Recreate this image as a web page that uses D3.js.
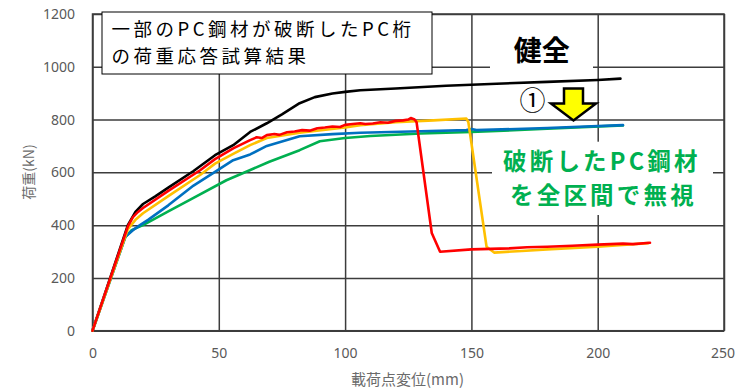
<!DOCTYPE html>
<html><head><meta charset="utf-8">
<script src="https://cdn.jsdelivr.net/npm/d3@7"></script>
<style>body{margin:0;background:#fff}svg{display:block}</style>
</head><body>
<svg id="c" width="735" height="388"></svg>
<script>
// ---- data (displacement mm, load kN) ----
const xTicks = [0, 50, 100, 150, 200, 250];
const yTicks = [0, 200, 400, 600, 800, 1000, 1200];
const xTitle = "載荷点変位(mm)";
const yTitle = "荷重(kN)";
const noteLines = ["一部のPC鋼材が破断したPC桁", "の荷重応答試算結果"];
const soundLabel = "健全";
const caseLabel = "①";
const greenLines = ["破断したPC鋼材", "を全区間で無視"];

const blackX = [0,14,17,20,25,30,40,48.5,55.7,62.4,69,75,82,88,95,100,106,120,140,160,180,200,209];
const blackY = [0,400,450,480,510,542,605,665,703,753,786,820,862,885,899,905,911,918,928,936,943,950,955];

const greenX = [0,13,15.5,20,30,40,53,62,70,82,90,100,110,130,150,180,210];
const greenY = [0,355,381,400,452,503,570,607,640,684,718,730,738,747,753,765,778];

const blueX = [0,13,16,18.8,22,30,40,48.5,55.7,62.4,69,82,95,106,130,148,150,152,180,210];
const blueY = [0,356,381,400,420,475,550,602,646,668,700,737,745,750,756,760,764,760,768,779];

const orangeX = [0,14,17,20,30,42.6,48.5,55.7,62.4,69,82,100,106,120,135,148,148.8,156,159,170,180,200,220];
const orangeY = [0,385,420,445,510,590,633,670,703,730,750,770,779,790,797,804,790,318,296,302,308,318,332];

const redX = [0,14,16,18,20,30,42.6,48.5,55.7,62.4,65,67,69,72,74,77,80,83,86,89,92,95,98,100,103,106,108,111,114,117,120,123,125,126,127.5,128.3,134.3,137.6,150,165,172,180,190,200,210,214,220.7];
const redY = [0,395,430,450,465,530,608,650,691,722,733,730,741,745,742,752,755,760,758,767,770,774,772,780,783,786,783,785,790,788,795,797,800,806,800,790,370,299,308,312,316,318,322,326,330,328,333];

// ---- layout ----
const svg = d3.select("#c");
const x = d3.scaleLinear().domain([0, 250]).range([92.5, 724]);
const y = d3.scaleLinear().domain([0, 1200]).range([330.7, 14]);
const W = x.range()[1] - x.range()[0];
const H = y.range()[0] - y.range()[1];
const gridColor = "#3c3c3c";
const tickFont = "'Noto Sans', 'DejaVu Sans', sans-serif";
const jp = "'Noto Sans CJK JP', sans-serif";

// y grid + labels
const gy = svg.append("g").attr("transform", `translate(${x(0)},0)`)
  .call(d3.axisLeft(y).tickValues(yTicks).tickFormat(d3.format("d"))
    .tickSizeInner(-W).tickSizeOuter(0).tickPadding(17.5));
// x grid + labels
const gx = svg.append("g").attr("transform", `translate(0,${y(0)})`)
  .call(d3.axisBottom(x).tickValues(xTicks).tickFormat(d3.format("d"))
    .tickSizeInner(-H).tickSizeOuter(0).tickPadding(17));
[gx, gy].forEach(g => {
  g.select(".domain").remove();
  g.selectAll(".tick line").attr("stroke", gridColor).attr("stroke-width", 1.5);
  g.selectAll(".tick text").attr("fill", "#595959").style("font-family", tickFont).style("font-size", "14px");
});
// last x label kept inside the picture
gx.selectAll(".tick text").filter(d => d === 250).attr("text-anchor", "end").attr("x", 10.5);

// frame
svg.append("rect").attr("x", x(0)).attr("y", y(1200)).attr("width", W).attr("height", H)
  .attr("fill", "none").attr("stroke", gridColor).attr("stroke-width", 1.5);

// axis titles
svg.append("text").attr("x", 407.5).attr("y", 378).attr("text-anchor", "middle")
  .attr("dominant-baseline", "central").attr("fill", "#6b6b6b")
  .style("font-family", jp).style("font-size", "15px").text(xTitle);
svg.append("text").attr("transform", "translate(28,172) rotate(-90)").attr("text-anchor", "middle")
  .attr("dominant-baseline", "central").attr("fill", "#6b6b6b")
  .style("font-family", jp).style("font-size", "14px").text(yTitle);

// series
const series = [
  {xs: blackX, ys: blackY, color: "#000000"},
  {xs: greenX, ys: greenY, color: "#00B050"},
  {xs: blueX, ys: blueY, color: "#0070C0"},
  {xs: orangeX, ys: orangeY, color: "#FFC000"},
  {xs: redX, ys: redY, color: "#FF0000"}
];
const line = d3.line().x(d => x(d[0])).y(d => y(d[1]));
series.forEach(s => {
  svg.append("path").datum(s.xs.map((v, i) => [v, s.ys[i]]))
    .attr("d", line).attr("fill", "none").attr("stroke", s.color)
    .attr("stroke-width", 2.6).attr("stroke-linejoin", "round").attr("stroke-linecap", "round");
});

// annotation box
svg.append("rect").attr("x", 102).attr("y", 12).attr("width", 330).attr("height", 62)
  .attr("fill", "#fff").attr("stroke", "#000").attr("stroke-width", 1);
const note = svg.append("text").style("font-family", jp).style("font-size", "18.5px")
  .style("letter-spacing", "3.5px").attr("fill", "#000");
note.append("tspan").attr("x", 111.5).attr("y", 36).text(noteLines[0]);
note.append("tspan").attr("x", 111.5).attr("y", 62.8).text(noteLines[1]);

// 健全 label
svg.append("rect").attr("x", 490).attr("y", 27).attr("width", 103).attr("height", 44).attr("fill", "#fff");
svg.append("text").attr("x", 541.7).attr("y", 61).attr("text-anchor", "middle")
  .style("font-family", jp).style("font-size", "28px").style("font-weight", "bold").attr("fill", "#000").text(soundLabel);

// ① and arrow
svg.append("text").attr("x", 532.5).attr("y", 110).attr("text-anchor", "middle")
  .style("font-family", jp).style("font-size", "26px").attr("fill", "#000").text(caseLabel);
svg.append("path").attr("d", "M564,88.5 H583 V103.5 H596 L573.5,120.5 L551,103.5 H564 Z")
  .attr("fill", "#FFFF00").attr("stroke", "#000").attr("stroke-width", 2.5).attr("stroke-linejoin", "miter");

// green note
svg.append("rect").attr("x", 492).attr("y", 141.7).attr("width", 221).attr("height", 73.3).attr("fill", "#fff");
const gnote = svg.append("text").style("font-family", jp).style("font-size", "23.5px")
  .style("font-weight", "bold").style("letter-spacing", "3.2px").attr("fill", "#00B050");
gnote.append("tspan").attr("x", 503).attr("y", 170).text(greenLines[0]);
gnote.append("tspan").attr("x", 510).attr("y", 204.2).text(greenLines[1]);
</script>
</body></html>
